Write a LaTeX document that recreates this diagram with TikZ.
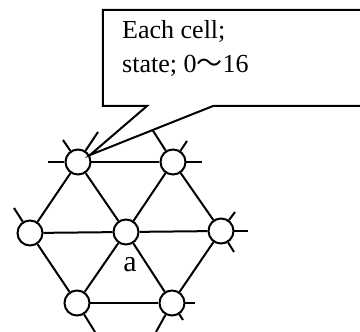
\documentclass[tikz,border=0pt]{standalone}
\usepackage{fontspec}
\setmainfont{Liberation Serif}
\newfontfamily\cjk{Noto Sans CJK JP}

\begin{document}
\begin{tikzpicture}[
    x=1pt, y=-1pt,
    cell/.style={draw, circle, fill=white, line width=2pt,
                 minimum size=25pt, inner sep=0pt},
    bond/.style={line width=2pt},
    balloon/.style={draw, fill=white, line width=2pt, line join=miter},
]
\clip (0,0) rectangle (360,332);

% Cells
\node[cell] (tl) at (78,162) {};
\node[cell] (tr) at (173,162) {};
\node[cell] (ml) at (30,233) {};
\node[cell] (mc) at (126,232) {};
\node[cell] (mr) at (221,231) {};
\node[cell] (bl) at (77,303) {};
\node[cell] (br) at (172,303) {};
\node[font=\fontsize{30}{34}\selectfont] (lbl) at (130,265) {a};

% Bonds inside the hexagon
\foreach \a/\b in {tl/tr, tl/ml, tl/mc, tr/mc, tr/mr, ml/mc, mc/mr,
                   ml/bl, mc/bl, mc/br, mr/br, bl/br}
  \draw[bond] (\a) -- (\b);

% Bonds to the neighbour cells
\coordinate (tl-w)  at (48,162);
\coordinate (tl-nw) at (63,140);
\coordinate (tl-ne) at (98,132);
\coordinate (tr-nw) at (150,126);
\coordinate (tr-ne) at (187,141);
\coordinate (tr-e)  at (202,162);
\coordinate (ml-nw) at (14,208);
\coordinate (mr-ne) at (235,212);
\coordinate (mr-e)  at (248,231);
\coordinate (mr-se) at (234,252);
\coordinate (bl-se) at (95,332);
\coordinate (br-sw) at (156,332);
\coordinate (br-se) at (183,320);
\coordinate (br-e)  at (195,303);
\foreach \a/\b in {tl/tl-w, tl/tl-nw, tl/tl-ne, tr/tr-nw, tr/tr-ne, tr/tr-e,
                   ml/ml-nw, mr/mr-ne, mr/mr-e, mr/mr-se,
                   bl/bl-se, br/br-sw, br/br-se, br/br-e}
  \draw[bond] (\a) -- (\b);

% Balloon
\coordinate (tip) at (90,155);
\draw[balloon] (147,106) -- (103,106) -- (103,10) -- (370,10)
               -- (370,106) -- (213,106) -- (tip) -- cycle;
\node[anchor=north west, align=left, inner sep=0pt,
      font=\fontsize{26}{34}\selectfont] (note) at (122,20)
     {Each cell;\\state; 0{\cjk 〜}16};
\end{tikzpicture}
\end{document}
